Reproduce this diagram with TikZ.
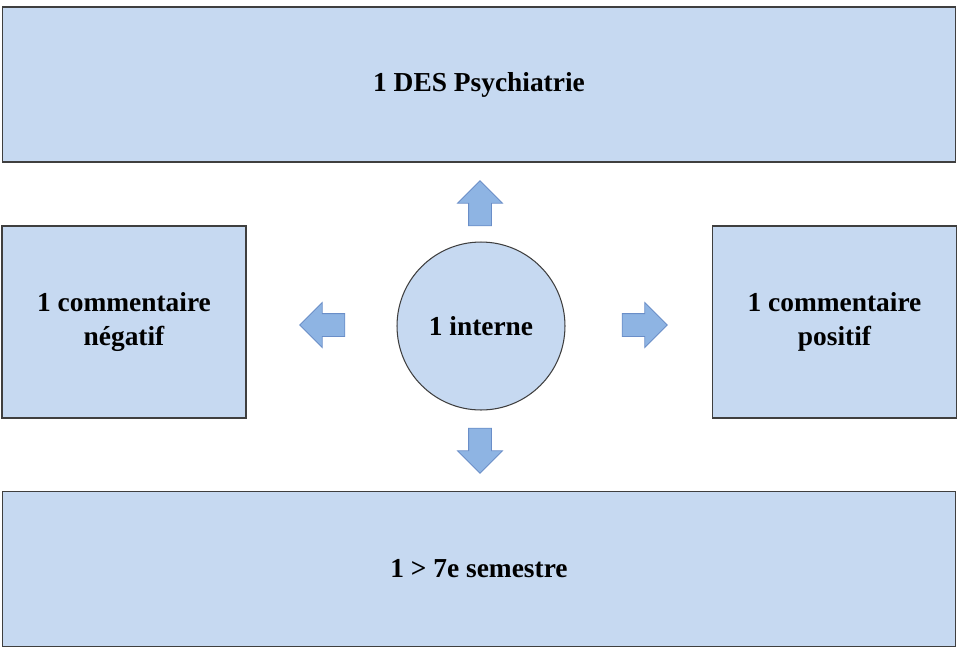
\documentclass[tikz,border=0pt]{standalone}
\usepackage{fontspec}
\setmainfont{Liberation Serif}
\usepackage{tikz}
\usetikzlibrary{shapes.arrows, positioning}
\usepackage{xcolor}
\definecolor{boxfill}{HTML}{C6D9F1}
\definecolor{boxline}{HTML}{3F3F3F}
\definecolor{arrfill}{HTML}{8EB4E3}
\definecolor{arrline}{HTML}{6A8EC8}

\begin{document}
\begin{tikzpicture}[
  x=0.02cm, y=-0.02cm,
  font=\fontsize{15.6}{19.3}\selectfont\bfseries,
  block/.style={draw=boxline, fill=boxfill, rectangle, line width=0.6pt,
                align=center, inner sep=0pt},
  wide/.style={block, minimum width=19.08cm, minimum height=3.1cm},
  side/.style={block, minimum width=4.88cm, minimum height=3.84cm},
  hub/.style={block, circle, minimum size=3.36cm},
  bigarrow/.style={single arrow, draw=arrline, fill=arrfill, line width=0.5pt,
                   inner sep=0pt, minimum height=0.9cm,
                   execute at begin node={\rule{0pt}{0.44cm}},
                   single arrow head extend=0.22cm, single arrow tip angle=90}
]
\useasboundingbox (0,0) rectangle (958,650);

%% Boxes
\node[wide] (des)   at (479,84.5)  {1 DES Psychiatrie};
\node[side] (neg)   at (124,322)   {1 commentaire\\négatif};
\node[side] (pos)   at (834.5,322) {1 commentaire\\positif};
\node[wide] (sem)   at (479,569)   {1 > 7e semestre};

%% Center
\node[hub]  (intern) at (481,326)  {1 interne};

%% Block arrows
\node[bigarrow, rotate=90]  (up)    at (480,209)   {};
\node[bigarrow, rotate=180] (left)  at (328,325)   {};
\node[bigarrow]             (right) at (639,325)   {};
\node[bigarrow, rotate=-90] (down)  at (480,445)   {};

\end{tikzpicture}
\end{document}
